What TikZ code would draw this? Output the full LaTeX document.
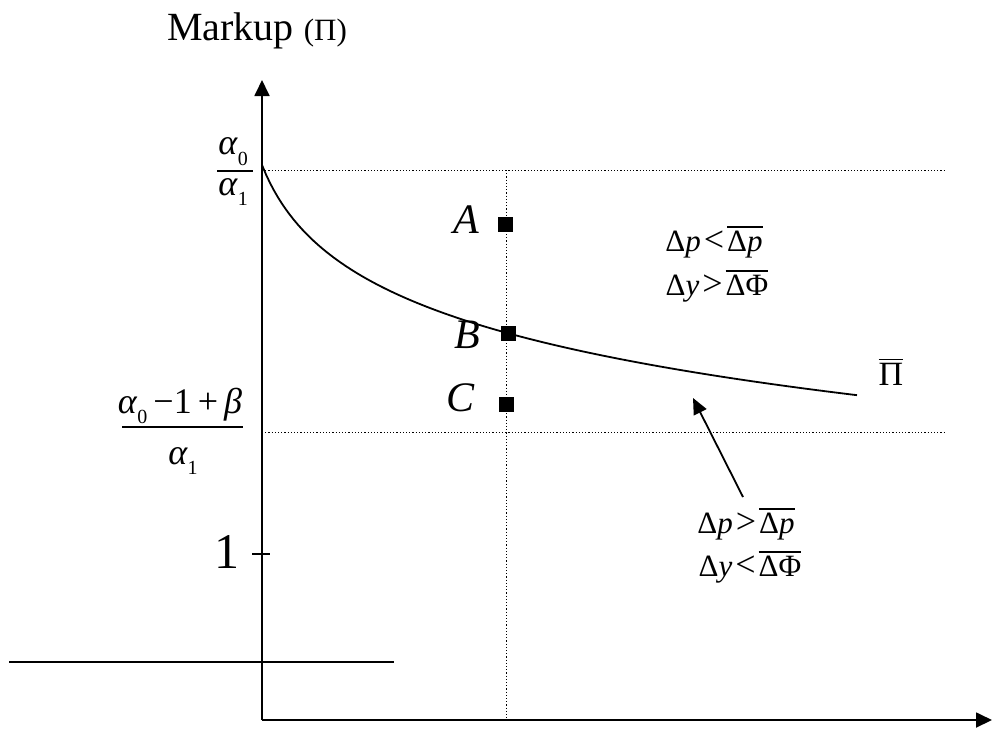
\documentclass[tikz,border=0pt]{standalone}
\usepackage{fontspec}
\setmainfont{Liberation Serif}
\usetikzlibrary{arrows.meta}
\newcommand{\fs}[1]{\fontsize{#1}{#1}\selectfont}
\newcommand{\lowsub}[1]{\raisebox{-0.3em}{\fs{20}\upshape #1}}
\newcommand{\ovl}[1]{\leavevmode\vbox{\hrule height 1.4pt\kern 3pt\hbox{#1}}}
\newcommand{\rel}[1]{\kern 3pt{\fs{36}#1}\kern 3pt}
\begin{document}
\begin{tikzpicture}[x=1pt,y=-1pt,
 axis/.style={line width=1.8pt,-{Triangle[length=16pt,width=15pt]}},
 guide/.style={line width=1pt,dash pattern=on 1.2pt off 2pt},
 curve/.style={line width=1.8pt},
 thick line/.style={line width=1.8pt},
 sq/.style={fill=black,minimum size=15pt,inner sep=0pt,draw=none,rectangle},
 lbl/.style={font=\fs{42}\itshape,inner sep=0pt},
 cond/.style={font=\fs{31},inner sep=0pt},
 frac/.style={font=\fs{36},inner sep=0pt},
]
\useasboundingbox (0,0) rectangle (992,729);
% axes
\coordinate (O) at (262,720);
\coordinate (ytip) at (262,80);
\coordinate (xtip) at (992,720);
\draw[axis] (O) -- (ytip);
\draw[axis] (O) -- (xtip);
\node[anchor=base west,font=\fs{40},inner sep=0pt] (ylab) at (167,40) {Markup {\fs{31}(Π)}};
% guides
\coordinate (t1) at (262,170); \coordinate (t2) at (945,170);
\coordinate (l1) at (262,432); \coordinate (l2) at (945,432);
\coordinate (v1) at (506,170); \coordinate (v2) at (506,720);
\draw[guide] (t1) -- (t2);
\draw[guide] (l1) -- (l2);
\draw[guide] (v1) -- (v2);
% tick and base line
\coordinate (k1) at (252,554); \coordinate (k2) at (270,554);
\draw[line width=1.5pt] (k1) -- (k2);
\node[font=\fs{50},inner sep=0pt] (one) at (227,552) {1};
\coordinate (b1) at (9,662); \coordinate (b2) at (394,662);
\draw[thick line] (b1) -- (b2);
% curve
\draw[curve] plot[domain=0:595,samples=150] ({262+\x},{165+75.8*ln(1+\x/30)});
\node[font=\fs{34},inner sep=0pt] (pibar) at (891,372) {\ovl{Π}};
% points
\node[sq] (A) at (505,224) {};
\node[sq] (B) at (508,333) {};
\node[sq] (C) at (506,404) {};
\node[lbl] (Al) at (466,220) {A};
\node[lbl] (Bl) at (467,335) {B};
\node[lbl] (Cl) at (460,398) {C};
% fractions
\node[frac] (n1) at (233,152) {\textit{α}\lowsub{0}};
\coordinate (r1a) at (217,171); \coordinate (r1b) at (253,171);
\draw[line width=1.5pt] (r1a) -- (r1b);
\node[frac] (d1) at (233,192) {\textit{α}\lowsub{1}};
\node[frac] (n2) at (180,406) {\textit{α}\lowsub{0}\,−1\,+\,\textit{β}};
\coordinate (r2a) at (122,427); \coordinate (r2b) at (243,427);
\draw[line width=1.5pt] (r2a) -- (r2b);
\node[frac] (d2) at (183,461) {\textit{α}\lowsub{1}};
% conditions
\node[cond] (c1) at (714,242) {Δ\textit{p}\rel{<}\ovl{Δ\textit{p}}};
\node[cond] (c2) at (717,286) {Δ\textit{y}\rel{>}\ovl{ΔΦ}};
\node[cond] (c3) at (746,524) {Δ\textit{p}\rel{>}\ovl{Δ\textit{p}}};
\node[cond] (c4) at (750,567) {Δ\textit{y}\rel{<}\ovl{ΔΦ}};
% arrow
\coordinate (a1) at (743,497); \coordinate (a2) at (693,398);
\draw[thick line,-{Triangle[length=16pt,width=14pt]}] (a1) -- (a2);
\end{tikzpicture}
\end{document}
